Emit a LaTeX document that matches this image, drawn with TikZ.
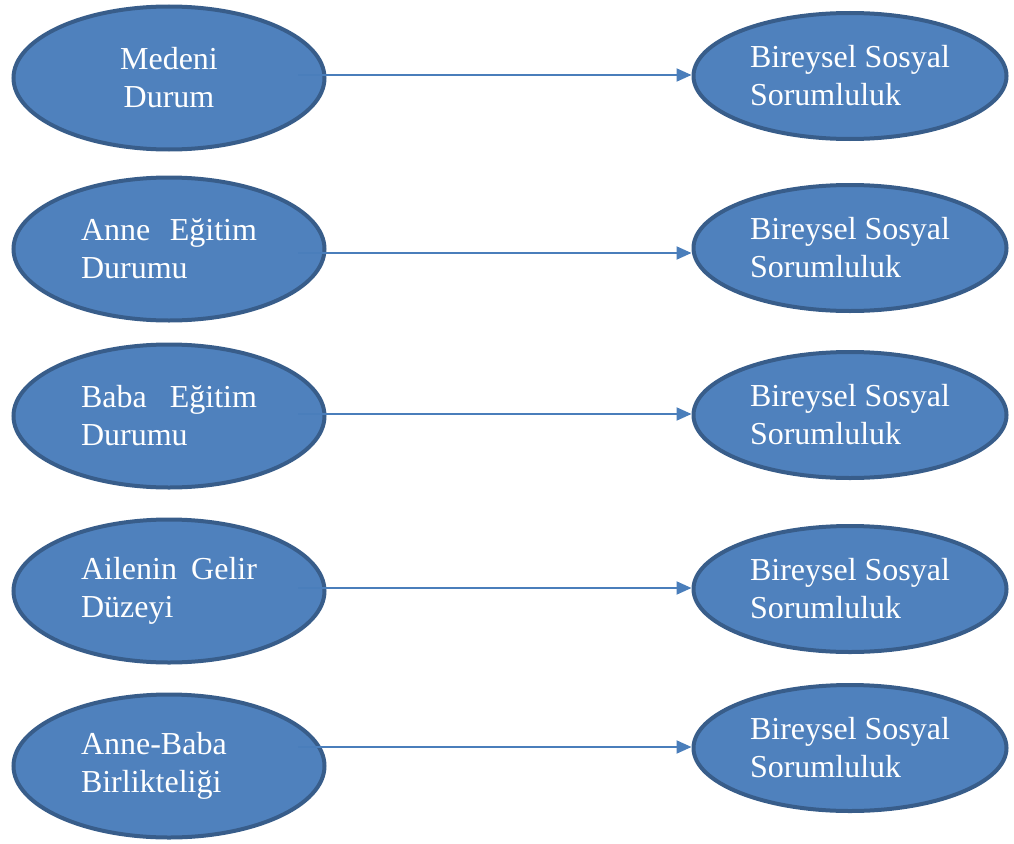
\documentclass[tikz,border=0pt]{standalone}
\usepackage{fontspec}
\setmainfont{Liberation Serif}
\usetikzlibrary{arrows.meta,shapes.geometric}
\definecolor{efill}{HTML}{4F81BD}
\definecolor{edraw}{HTML}{385D8A}
\definecolor{arr}{HTML}{4A7EBB}
\tikzset{
  lell/.style={ellipse, fill=efill, draw=edraw, line width=4pt, minimum width=311pt, minimum height=143pt, inner sep=0pt, text=white, font=\fontsize{32}{38}\selectfont},
  rell/.style={ellipse, fill=efill, draw=edraw, line width=4pt, minimum width=313pt, minimum height=126pt, inner sep=0pt, text=white, font=\fontsize{32}{38}\selectfont},
  conn/.style={draw=arr, line width=2pt, -{Triangle[length=15pt,width=13pt]}},
}
\newcommand{\ltxt}[2]{\parbox{176pt}{\makebox[176pt][l]{#1}\\#2}}
\newcommand{\rtxt}{\parbox{200pt}{Bireysel Sosyal\\Sorumluluk}}
\begin{document}
\begin{tikzpicture}[x=1pt,y=-1pt]
\useasboundingbox (0,0) rectangle (1014,843);
\node[lell] (L1) at (169,78) {\parbox{176pt}{\centering Medeni\\Durum}};
\node[lell] (L2) at (169,249) {\ltxt{Anne\hfill Eğitim}{Durumu}};
\node[lell] (L3) at (169,416) {\ltxt{Baba\hfill Eğitim}{Durumu}};
\node[lell] (L4) at (169,591) {\ltxt{Ailenin\hfill Gelir}{Düzeyi}};
\node[lell] (L5) at (169,766) {\ltxt{Anne-Baba}{Birlikteliği}};
\node[rell] (R1) at (850,76) {\rtxt};
\node[rell] (R2) at (850,248) {\rtxt};
\node[rell] (R3) at (850,415) {\rtxt};
\node[rell] (R4) at (850,589) {\rtxt};
\node[rell] (R5) at (850,748) {\rtxt};
\coordinate (s1) at (298,75);
\coordinate (s2) at (298,253);
\coordinate (s3) at (298,414);
\coordinate (s4) at (298,588);
\coordinate (s5) at (298,747);
\foreach \i in {1,...,5}{
  \draw[conn] (s\i) -- (s\i -| R\i.west);
}
\end{tikzpicture}
\end{document}
